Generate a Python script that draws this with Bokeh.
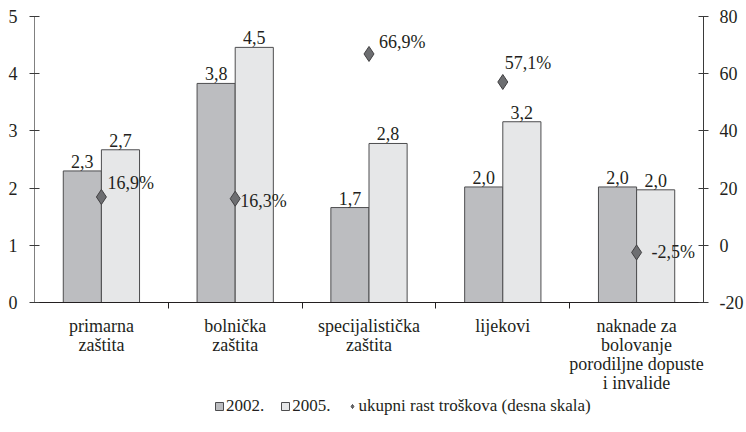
from bokeh.plotting import figure
from bokeh.models import (Range1d, LinearAxis, FixedTicker, Legend, LegendItem,
                          ColumnDataSource)
from bokeh.layouts import column
from bokeh.embed import file_html
from bokeh.resources import INLINE
from bokeh.core.properties import value

# ---- data ----
categories = ["primarna\nzaštita", "bolnička\nzaštita", "specijalistička\nzaštita",
              "lijekovi", "naknade za\nbolovanje\nporodiljne dopuste\ni invalide"]
v2002 = [2.30, 3.83, 1.66, 2.02, 2.02]
v2005 = [2.67, 4.46, 2.78, 3.16, 1.97]
growth = [16.9, 16.3, 66.9, 57.1, -2.5]
left_ticks = [0, 1, 2, 3, 4, 5]
right_ticks = [-20, 0, 20, 40, 60, 80]
legend_labels = ["2002.", "2005.", "ukupni rast troškova (desna skala)"]

# label offsets (screen px) for the growth labels
g_dx = [6, 5, 10, 2, 15]
g_dy = [-14, 2, -12, -19, 0]

FONT = "Liberation Serif"
FS = "18px"
TXT = "#231f20"
C02 = "#bcbdc0"
C05 = "#e6e7e8"
EDGE = "#4d4d4f"
DIA = "#6d6e71"

n = len(categories)
centers = [i + 0.5 for i in range(n)]
bw = 0.285

def fmt(v):
    return f"{v:.1f}".replace(".", ",")

src = ColumnDataSource(dict(
    xc=centers,
    x02=[c - bw / 2 for c in centers],
    x05=[c + bw / 2 for c in centers],
    v02=v2002, v05=v2005, g=growth,
    l02=[fmt(v) for v in v2002], l05=[fmt(v) for v in v2005],
    lg=[fmt(v) + "%" for v in growth],
    gdx=g_dx, gdy=g_dy,
))

p = figure(width=746, height=396, output_backend="svg", toolbar_location=None,
           x_range=Range1d(0, n), y_range=Range1d(0, 5),
           min_border_left=34, min_border_right=40, min_border_top=16,
           min_border_bottom=94, y_axis_location=None, x_axis_location=None)
p.extra_y_ranges = {"right": Range1d(-20, 80)}
p.outline_line_color = None
p.xgrid.visible = False
p.ygrid.visible = False
p.background_fill_color = "white"
p.border_fill_color = "white"

bar_kw = dict(source=src, bottom=0, width=bw, line_color=EDGE, line_width=1)
r02 = p.vbar(x="x02", top="v02", fill_color=C02, **bar_kw)
r05 = p.vbar(x="x05", top="v05", fill_color=C05, **bar_kw)
dia_kw = dict(marker="diamond", size=15, fill_color=DIA, line_color="#414042",
              line_width=1)
rd = p.scatter(x="xc", y="g", source=src, y_range_name="right", **dia_kw)

txt_kw = dict(source=src, text_font=value(FONT), text_font_size=FS, text_color=TXT)
p.text(x="x02", y="v02", text="l02", text_align="center",
       text_baseline="bottom", y_offset=-3, **txt_kw)
p.text(x="x05", y="v05", text="l05", text_align="center",
       text_baseline="bottom", y_offset=-3, **txt_kw)
p.text(x="xc", y="g", text="lg", y_range_name="right",
       text_align="left", text_baseline="middle", x_offset="gdx", y_offset="gdy",
       **txt_kw)

def style_axis(ax):
    ax.major_label_text_font = FONT
    ax.major_label_text_font_size = FS
    ax.major_label_text_color = TXT

# left axis
ly = LinearAxis(ticker=FixedTicker(ticks=left_ticks))
ly.axis_line_color = "#808080"
ly.major_tick_line_color = "#3a3a3a"
ly.major_tick_in = 5
ly.major_tick_out = 5
ly.minor_tick_line_color = None
ly.major_label_standoff = 12
style_axis(ly)
p.add_layout(ly, "left")

# right axis
ry = LinearAxis(y_range_name="right", ticker=FixedTicker(ticks=right_ticks))
ry.major_label_overrides = {t: (f"-{abs(t)}" if t < 0 else str(t)) for t in right_ticks}
ry.axis_line_color = "#3a3a3a"
ry.major_tick_line_color = "#3a3a3a"
ry.major_tick_in = 5
ry.major_tick_out = 5
ry.minor_tick_line_color = None
ry.major_label_standoff = 11
style_axis(ry)
p.add_layout(ry, "right")

# bottom axes: one axis per label line so every line is centred;
# the first one also carries the axis line and the boundary tick marks
split = [c.split("\n") for c in categories]
nlines = max(len(s) for s in split)
for k in range(nlines):
    if k == 0:
        ax = LinearAxis(ticker=FixedTicker(ticks=centers,
                                           minor_ticks=[i for i in range(1, n)]))
        ax.axis_line_color = "#231f20"
        ax.minor_tick_line_color = "#231f20"
        ax.minor_tick_in = 0
        ax.minor_tick_out = 6
        ax.major_label_standoff = 7
    else:
        ax = LinearAxis(ticker=FixedTicker(ticks=centers))
        ax.axis_line_color = None
        ax.minor_tick_line_color = None
        ax.major_label_standoff = -4
    ax.major_tick_line_color = None
    ax.major_tick_in = 0
    ax.major_tick_out = 0
    ax.major_label_overrides = {c: (s[k] if k < len(s) else " ")
                                for c, s in zip(centers, split)}
    style_axis(ax)
    p.add_layout(ax, "below")

# ---- legend strip (separate figure, same data out of view) ----
lg = figure(width=746, height=36, output_backend="svg", toolbar_location=None,
            x_range=Range1d(100, 101), y_range=Range1d(100, 101),
            min_border=0, x_axis_location=None, y_axis_location=None)
lg.outline_line_color = None
lg.xgrid.visible = False
lg.ygrid.visible = False
q02 = lg.vbar(x="x02", top="v02", fill_color=C02, **bar_kw)
q05 = lg.vbar(x="x05", top="v05", fill_color=C05, **bar_kw)
qd = lg.scatter(x="xc", y="v02", source=src, **dia_kw)

legend = Legend(items=[LegendItem(label=legend_labels[0], renderers=[q02]),
                       LegendItem(label=legend_labels[1], renderers=[q05]),
                       LegendItem(label=legend_labels[2], renderers=[qd])],
                orientation="horizontal", location=(180, 16),
                border_line_color=None, background_fill_alpha=0,
                glyph_width=10, glyph_height=10, label_standoff=2, spacing=16,
                padding=0, margin=0,
                label_text_font=FONT, label_text_font_size="17px",
                label_text_color=TXT)
lg.add_layout(legend, "center")

layout = column(p, lg, spacing=0)
open("out.html", "w").write(file_html(layout, INLINE))
